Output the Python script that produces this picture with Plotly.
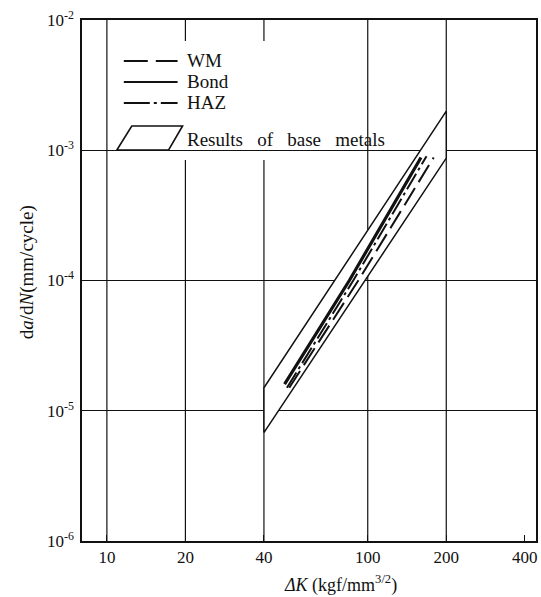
import math
import plotly.graph_objects as go

# ---------------- data ----------------
# Scatter band of base-metal results (parallelogram corners)
band_dk = [40, 40, 200, 200, 40]
band_rate = [6.8e-6, 1.5e-5, 2.0e-3, 8.7e-4, 6.8e-6]

# Weld metal (dashed)
wm_dk = [50, 92, 179]
wm_rate = [1.5e-5, 1.0e-4, 8.8e-4]

# Bond (solid)
bond_dk = [48, 85, 160]
bond_rate = [1.6e-5, 1.0e-4, 8.8e-4]

# HAZ (dash-dot)
haz_dk = [49, 88, 168]
haz_rate = [1.5e-5, 1.0e-4, 9.0e-4]

x_tickvals = [10, 20, 40, 100, 200, 400]
x_ticktext = ["10", "20", "40", "100", "200", "400"]
x_gridvals = [10, 20, 40, 100, 200]          # full-height vertical grid lines
x_grid_behind_legend = [20, 40]              # interrupted by the legend
y_tickvals = [1e-6, 1e-5, 1e-4, 1e-3, 1e-2]
y_ticktext = ["10<sup>-6</sup>", "10<sup>-5</sup>", "10<sup>-4</sup>",
              "10<sup>-3</sup>", "10<sup>-2</sup>"]

legend_names = ["WM", "Bond", "HAZ", "Results of base metals"]

# ---------------- layout geometry ----------------
W, H = 541, 597
# plot area in window pixels: x 82..538, y 20..541
L_, R_, T_, B_ = 82, 538, 20, 541
ML, MT = L_, T_
MR, MB = W - R_, H - B_
PW = R_ - L_
PH = B_ - T_


def px(x):
    return (x - L_) / PW


def py(y):
    return (B_ - y) / PH


FONT = "Liberation Serif"
BLACK = "#111111"
GRID_W = 1.2

fig = go.Figure()

fig.add_trace(go.Scatter(
    x=band_dk, y=band_rate, mode="lines", fill="toself",
    fillcolor="white", line=dict(color=BLACK, width=1.5),
    name=legend_names[3], showlegend=False, hoverinfo="skip"))

fig.add_trace(go.Scatter(
    x=wm_dk, y=wm_rate, mode="lines",
    line=dict(color=BLACK, width=2, dash="20px,7px"),
    name=legend_names[0], showlegend=False))

fig.add_trace(go.Scatter(
    x=haz_dk, y=haz_rate, mode="lines",
    line=dict(color=BLACK, width=2, dash="18px,4px,3px,4px"),
    name=legend_names[2], showlegend=False))

fig.add_trace(go.Scatter(
    x=bond_dk, y=bond_rate, mode="lines",
    line=dict(color=BLACK, width=3.2),
    name=legend_names[1], showlegend=False))

shapes = []


def vgrid(v):
    return dict(type="line", xref="x", yref="paper", x0=v, x1=v, y0=0, y1=1,
                line=dict(color=BLACK, width=GRID_W), layer="between")


for v in x_gridvals:
    if v in x_grid_behind_legend:
        shapes.append(vgrid(v))
# white area behind the hand-drawn legend (hides grid lines there)
shapes.append(dict(type="rect", xref="paper", yref="paper",
                   x0=px(112), x1=px(392), y0=py(160), y1=py(41),
                   fillcolor="white", line=dict(width=0), layer="between"))
for v in x_gridvals:
    if v not in x_grid_behind_legend:
        shapes.append(vgrid(v))

# legend samples
shapes.append(dict(type="line", xref="paper", yref="paper",
                   x0=px(124), x1=px(178), y0=py(61), y1=py(61),
                   line=dict(color=BLACK, width=1.8, dash="24px,8px")))
shapes.append(dict(type="line", xref="paper", yref="paper",
                   x0=px(124), x1=px(178), y0=py(82), y1=py(82),
                   line=dict(color=BLACK, width=1.8)))
shapes.append(dict(type="line", xref="paper", yref="paper",
                   x0=px(124), x1=px(178), y0=py(103), y1=py(103),
                   line=dict(color=BLACK, width=1.8, dash="26px,4px,3px,4px")))
pts = [(117, 150), (132, 126), (183, 126), (169, 150)]
path = "M " + " L ".join(f"{px(a):.4f},{py(b):.4f}" for a, b in pts) + " Z"
shapes.append(dict(type="path", xref="paper", yref="paper", path=path,
                   line=dict(color=BLACK, width=1.6), fillcolor="white"))

annotations = []
for name, yy in zip(legend_names[:3], [61, 82, 103]):
    annotations.append(dict(text=name, xref="paper", yref="paper",
                            x=px(185), y=py(yy), xanchor="left", yanchor="middle",
                            showarrow=False, font=dict(family=FONT, size=19, color=BLACK)))
annotations.append(dict(text=legend_names[3].replace(" ", "&nbsp;&nbsp;&nbsp;"),
                        xref="paper", yref="paper",
                        x=px(185), y=py(140), xanchor="left", yanchor="middle",
                        showarrow=False, font=dict(family=FONT, size=19, color=BLACK)))

# axis titles
annotations.append(dict(text="d<i>a</i>/d<i>N</i>(mm/cycle)", xref="paper", yref="paper",
                        x=px(27), y=py(272), xanchor="center", yanchor="middle",
                        textangle=-90, showarrow=False,
                        font=dict(family=FONT, size=19, color=BLACK)))
annotations.append(dict(text="<i>ΔK</i> (kgf/mm<sup>3/2</sup>)", xref="paper", yref="paper",
                        x=px(342), y=py(584), xanchor="center", yanchor="middle",
                        showarrow=False,
                        font=dict(family=FONT, size=18, color=BLACK)))

fig.update_layout(
    width=W, height=H,
    margin=dict(l=ML, r=MR, t=MT, b=MB, pad=0),
    paper_bgcolor="white", plot_bgcolor="white",
    font=dict(family=FONT, size=16, color=BLACK),
    showlegend=False,
    shapes=shapes, annotations=annotations,
)

# x scale: 10 at x=107 px, 262 px per decade
x_lo = 1 - (107 - L_) / 262
x_hi = x_lo + PW / 262
fig.update_xaxes(
    type="log", range=[x_lo, x_hi],
    tickvals=x_tickvals, ticktext=x_ticktext,
    showgrid=False,
    showline=True, linecolor=BLACK, linewidth=1.5, mirror=True,
    ticks="inside", ticklen=6, tickwidth=1.2, tickcolor=BLACK,
    ticklabelstandoff=0, zeroline=False,
    tickfont=dict(family=FONT, size=17, color=BLACK),
)
fig.update_yaxes(
    type="log", range=[-6, -2],
    tickvals=y_tickvals, ticktext=y_ticktext,
    showgrid=True, gridcolor=BLACK, gridwidth=GRID_W,
    showline=True, linecolor=BLACK, linewidth=1.5, mirror=True,
    ticks="", ticklabelstandoff=3, zeroline=False,
    tickfont=dict(family=FONT, size=17, color=BLACK),
)

fig.write_html(
    "out.html",
    config={"displayModeBar": False},
    post_script="document.body.style.margin='0';document.body.style.overflow='hidden';",
)
